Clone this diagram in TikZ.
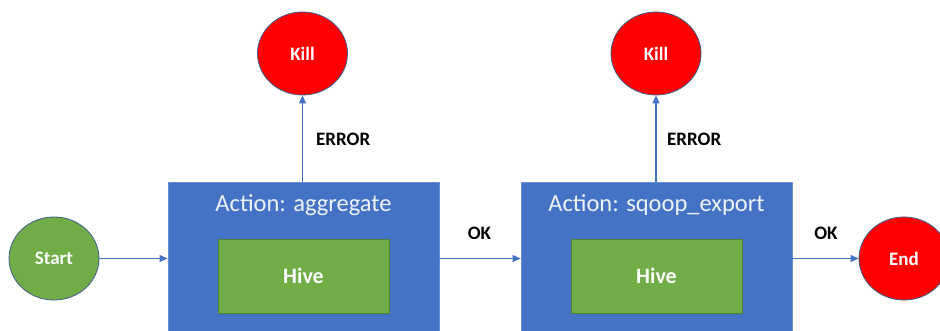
\documentclass[tikz,border=0pt]{standalone}
\usepackage{fontspec}
\setmainfont{Carlito}
\usetikzlibrary{arrows.meta,shapes.geometric}
\definecolor{abox}{HTML}{4472C4}
\definecolor{aboxline}{HTML}{6A8FD6}
\definecolor{agreen}{HTML}{70AD47}
\definecolor{agreenline}{HTML}{507E32}
\definecolor{ared}{HTML}{FF0000}
\definecolor{acircline}{HTML}{3F5A8F}
\definecolor{alink}{HTML}{4472C4}
\definecolor{atitle}{HTML}{EEF2FA}
\tikzset{
  circnode/.style={ellipse, draw=acircline, line width=0.8pt, minimum width=90pt, minimum height=83pt, inner sep=0pt, text=white, font=\fontsize{19}{22}\selectfont\bfseries},
  killnode/.style={circnode, fill=ared},
  startnode/.style={circnode, fill=agreen},
  actionbox/.style={rectangle, draw=aboxline, line width=0.8pt, fill=abox, minimum width=271pt, minimum height=163pt, inner sep=0pt},
  hivebox/.style={rectangle, draw=agreenline, line width=0.8pt, fill=agreen, minimum width=171pt, minimum height=74pt, inner sep=0pt, text=white, font=\fontsize{22}{26}\selectfont\bfseries},
  titletext/.style={text=atitle, font=\fontsize{24.5}{28}\selectfont, inner sep=0pt},
  lbl/.style={text=black, font=\fontsize{19}{22}\selectfont\bfseries, inner sep=0pt},
  link/.style={draw=alink, line width=1.1pt, -{Triangle[length=8pt,width=7pt]}}
}
\begin{document}
\begin{tikzpicture}[x=1pt,y=-1pt]
\useasboundingbox (0,0) rectangle (940,331);
\clip (0,0) rectangle (940,331);
\fill[white] (0,0) rectangle (940,331);
% nodes
\node[startnode] (start) at (54,258.5) {Start};
\node[actionbox] (act1) at (303.5,263.5) {};
\node[titletext] (t1) at (303.5,205) {Action: aggregate};
\node[hivebox] (hive1) at (303.5,276) {Hive};
\node[killnode] (kill1) at (302.5,53.5) {Kill};
\node[actionbox] (act2) at (656.5,263.5) {};
\node[titletext] (t2) at (656.5,205) {Action: sqoop\_export};
\node[hivebox] (hive2) at (656.5,276) {Hive};
\node[killnode] (kill2) at (656,53.5) {Kill};
\node[killnode] (end) at (904,258.5) {End};
% labels
\node[lbl, anchor=west] (err1) at (316,139) {ERROR};
\node[lbl, anchor=west] (err2) at (667,139) {ERROR};
\node[lbl] (ok1) at (479.5,233) {OK};
\node[lbl] (ok2) at (826,233) {OK};
% connectors
\draw[link] (start.east) -- (start.east -| act1.west);
\draw[link] (act1.north -| kill1.south) -- (kill1.south);
\draw[link] (act2.north -| kill2.south) -- (kill2.south);
\draw[link] (act1.east |- start.east) -- (act2.west |- start.east);
\draw[link] (act2.east |- end.west) -- (end.west);
\end{tikzpicture}
\end{document}
